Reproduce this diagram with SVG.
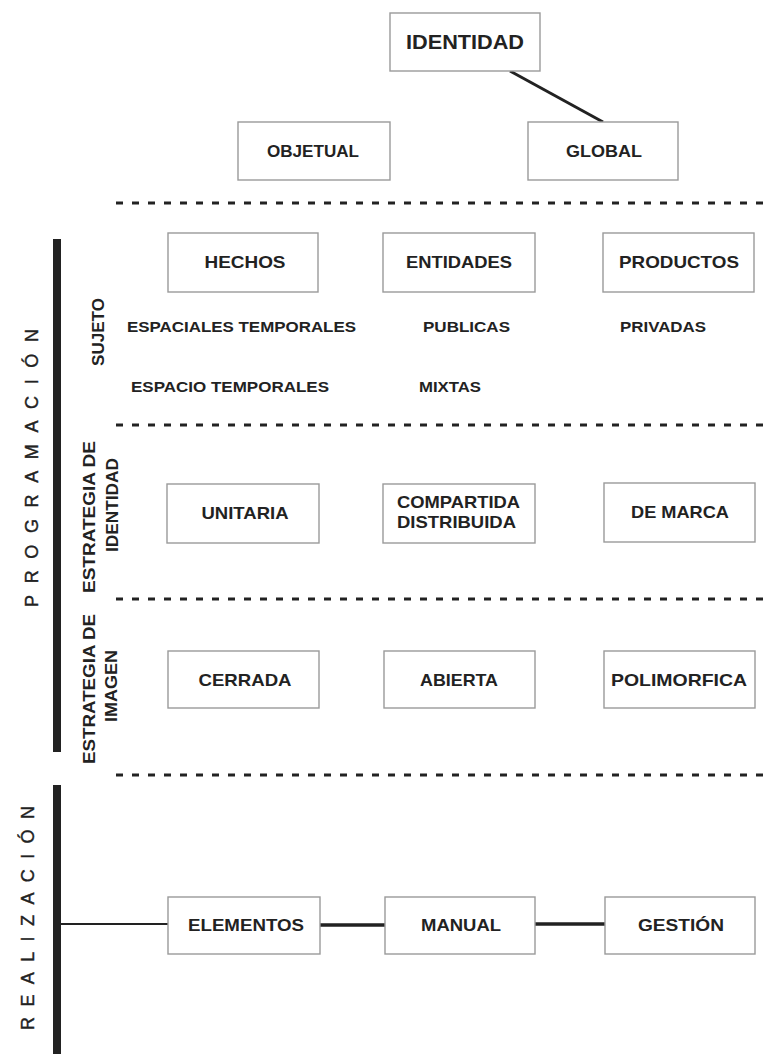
<svg xmlns="http://www.w3.org/2000/svg" width="766" height="1054" viewBox="0 0 766 1054">
<style>
.box{fill:#fff;stroke:#9a9a9a;stroke-width:1.4}
.lbl{font-family:"Liberation Sans",Arial,sans-serif;font-weight:bold;font-size:17px;fill:#222;text-anchor:middle}
.sub{font-family:"Liberation Sans",Arial,sans-serif;font-weight:bold;font-size:15px;fill:#222}
.rot{font-family:"Liberation Sans",Arial,sans-serif;font-weight:bold;font-size:17px;fill:#222;text-anchor:middle}
.big{font-family:"Liberation Sans",Arial,sans-serif;font-weight:normal;font-size:18px;fill:#222;text-anchor:middle;stroke:#222;stroke-width:0.4}
.dot{stroke:#222;stroke-width:3;stroke-dasharray:7 9;fill:none}
.bar{fill:#222}
.con{stroke:#222;fill:none}
</style>
<rect width="766" height="1054" fill="#fff"/>
<g id="separators">
<line class="dot" x1="116" y1="203" x2="766" y2="203"/>
<line class="dot" x1="116" y1="425" x2="766" y2="425"/>
<line class="dot" x1="116" y1="599" x2="766" y2="599"/>
<line class="dot" x1="116" y1="775" x2="766" y2="775"/>
</g>
<g id="bars">
<rect class="bar" x="53" y="239" width="8" height="513"/>
<rect class="bar" x="53" y="785" width="8" height="269"/>
<text class="big" transform="translate(38,468) rotate(-90)" textLength="278" lengthAdjust="spacing">PROGRAMACIÓN</text>
<text class="big" transform="translate(34,918) rotate(-90)" textLength="224" lengthAdjust="spacing">REALIZACIÓN</text>
</g>
<g id="side-labels">
<text class="rot" transform="translate(104,332) rotate(-90)" textLength="68" lengthAdjust="spacingAndGlyphs">SUJETO</text>
<text class="rot" transform="translate(95,517) rotate(-90)" textLength="152" lengthAdjust="spacingAndGlyphs">ESTRATEGIA DE</text>
<text class="rot" transform="translate(118,505) rotate(-90)" textLength="94" lengthAdjust="spacingAndGlyphs">IDENTIDAD</text>
<text class="rot" transform="translate(95,689) rotate(-90)" textLength="150" lengthAdjust="spacingAndGlyphs">ESTRATEGIA DE</text>
<text class="rot" transform="translate(117,686) rotate(-90)" textLength="72" lengthAdjust="spacingAndGlyphs">IMAGEN</text>
</g>
<g id="connectors">
<line class="con" stroke-width="3" x1="510" y1="71" x2="603" y2="122"/>
<line class="con" stroke-width="2" x1="57" y1="924" x2="168" y2="924"/>
<line class="con" stroke-width="3.5" x1="320" y1="925" x2="385" y2="925"/>
<line class="con" stroke-width="3.5" x1="535" y1="924" x2="605" y2="924"/>
</g>
<g id="identidad"><rect class="box" x="390" y="13" width="150" height="58"/><text class="lbl" style="font-size:20px" x="465" y="49" textLength="118" lengthAdjust="spacingAndGlyphs">IDENTIDAD</text></g>
<g id="objetual"><rect class="box" x="238" y="122" width="152" height="58"/><text class="lbl" x="313" y="157" textLength="92" lengthAdjust="spacingAndGlyphs">OBJETUAL</text></g>
<g id="global"><rect class="box" x="528" y="122" width="150" height="58"/><text class="lbl" x="604" y="157" textLength="76" lengthAdjust="spacingAndGlyphs">GLOBAL</text></g>
<g id="hechos"><rect class="box" x="168" y="233" width="150" height="59"/><text class="lbl" x="245" y="268" textLength="81" lengthAdjust="spacingAndGlyphs">HECHOS</text></g>
<g id="entidades"><rect class="box" x="383" y="233" width="152" height="59"/><text class="lbl" x="459" y="268" textLength="106" lengthAdjust="spacingAndGlyphs">ENTIDADES</text></g>
<g id="productos"><rect class="box" x="603" y="233" width="151" height="59"/><text class="lbl" x="679" y="268" textLength="120" lengthAdjust="spacingAndGlyphs">PRODUCTOS</text></g>
<g id="sujeto-items">
<text class="sub" x="127" y="332" textLength="229" lengthAdjust="spacingAndGlyphs">ESPACIALES TEMPORALES</text>
<text class="sub" x="131" y="392" textLength="198" lengthAdjust="spacingAndGlyphs">ESPACIO TEMPORALES</text>
<text class="sub" x="423" y="332" textLength="87" lengthAdjust="spacingAndGlyphs">PUBLICAS</text>
<text class="sub" x="419" y="392" textLength="62" lengthAdjust="spacingAndGlyphs">MIXTAS</text>
<text class="sub" x="620" y="332" textLength="86" lengthAdjust="spacingAndGlyphs">PRIVADAS</text>
</g>
<g id="unitaria"><rect class="box" x="167" y="484" width="152" height="59"/><text class="lbl" x="245" y="519" textLength="87" lengthAdjust="spacingAndGlyphs">UNITARIA</text></g>
<g id="compartida"><rect class="box" x="383" y="484" width="152" height="59"/><text class="lbl" x="397" y="508" style="text-anchor:start" textLength="123" lengthAdjust="spacingAndGlyphs">COMPARTIDA</text><text class="lbl" x="397" y="528" style="text-anchor:start" textLength="119" lengthAdjust="spacingAndGlyphs">DISTRIBUIDA</text></g>
<g id="demarca"><rect class="box" x="604" y="483" width="151" height="59"/><text class="lbl" x="680" y="518" textLength="98" lengthAdjust="spacingAndGlyphs">DE MARCA</text></g>
<g id="cerrada"><rect class="box" x="168" y="651" width="151" height="57"/><text class="lbl" x="245" y="686" textLength="93" lengthAdjust="spacingAndGlyphs">CERRADA</text></g>
<g id="abierta"><rect class="box" x="384" y="651" width="151" height="57"/><text class="lbl" x="459" y="686" textLength="78" lengthAdjust="spacingAndGlyphs">ABIERTA</text></g>
<g id="polimorfica"><rect class="box" x="604" y="651" width="151" height="57"/><text class="lbl" x="679" y="686" textLength="136" lengthAdjust="spacingAndGlyphs">POLIMORFICA</text></g>
<g id="elementos"><rect class="box" x="168" y="897" width="152" height="57"/><text class="lbl" x="246" y="931" textLength="116" lengthAdjust="spacingAndGlyphs">ELEMENTOS</text></g>
<g id="manual"><rect class="box" x="385" y="897" width="150" height="57"/><text class="lbl" x="461" y="931" textLength="80" lengthAdjust="spacingAndGlyphs">MANUAL</text></g>
<g id="gestion"><rect class="box" x="605" y="897" width="150" height="57"/><text class="lbl" x="681" y="931" textLength="86" lengthAdjust="spacingAndGlyphs">GESTIÓN</text></g>
</svg>
